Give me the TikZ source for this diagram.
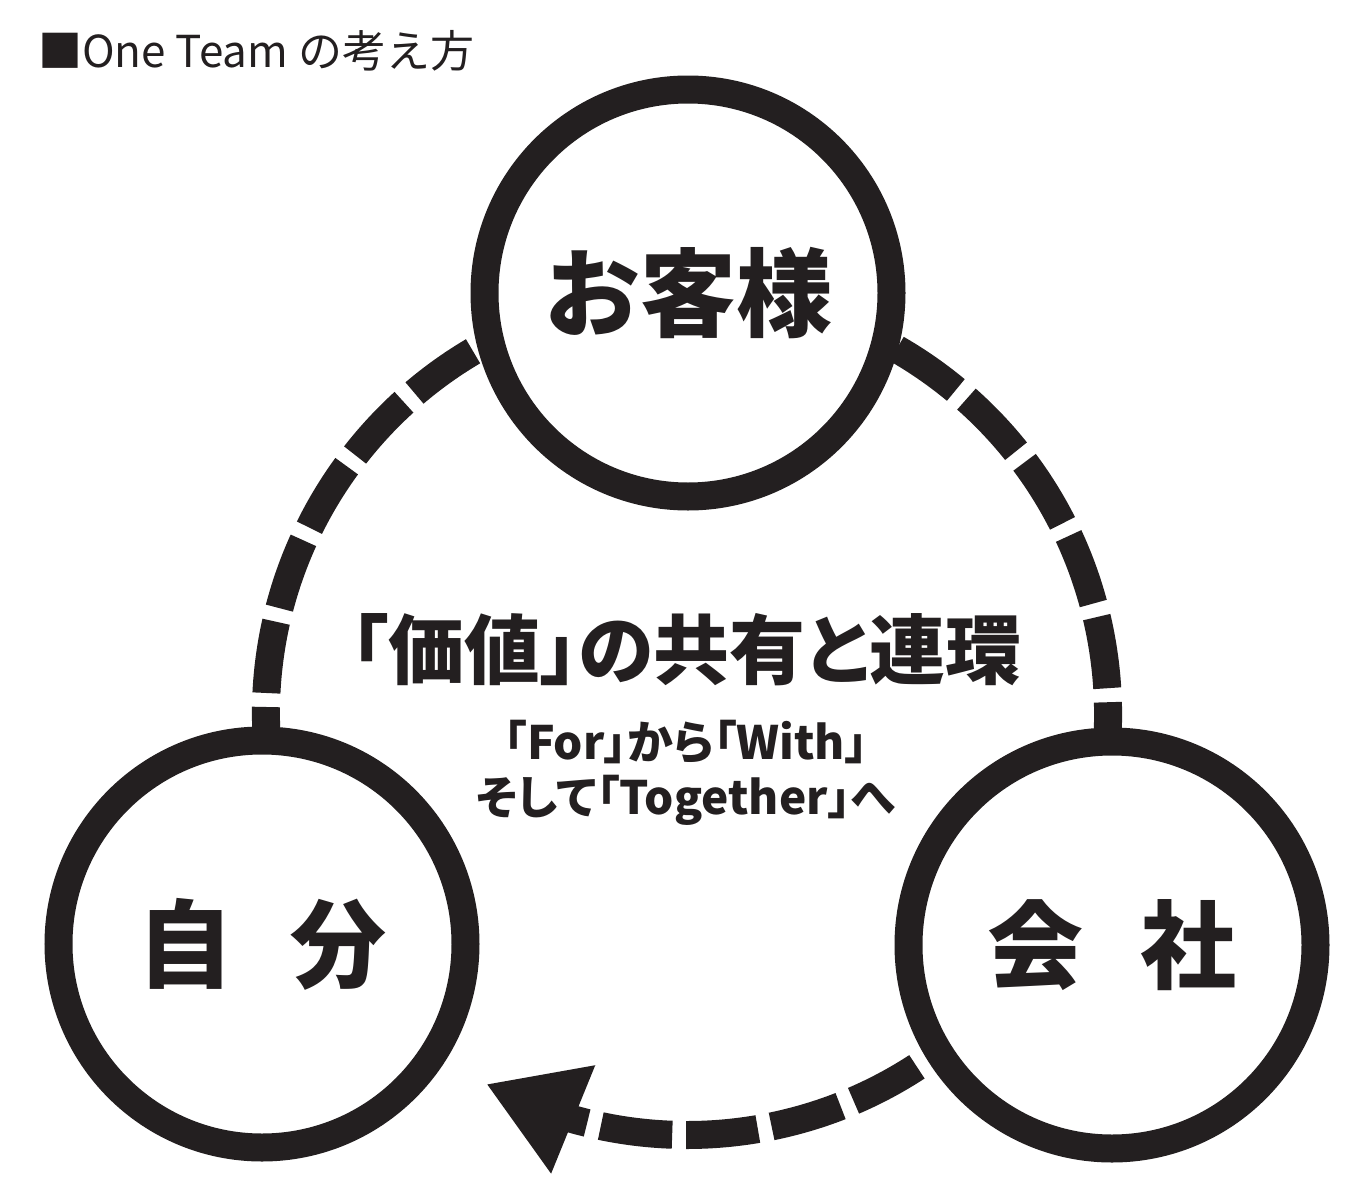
\documentclass[tikz,border=0pt]{standalone}
\usepackage{fontspec}
\usepackage{xcolor}
\usepackage{tikz}
\usetikzlibrary{arrows.meta, bending, positioning}
\newfontfamily\jpfont{Noto Sans CJK JP}
\newfontfamily\jppalt{Noto Sans CJK JP}[RawFeature=+palt]
\definecolor{inkblack}{RGB}{35,31,32}

\begin{document}
\begin{tikzpicture}[
				x=1pt, y=-1pt,
				node distance=34pt,
				party/.style={circle, draw=inkblack, fill=white, line width=28pt, minimum size=407pt,
					inner sep=0pt, text=inkblack, font=\jpfont\bfseries\fontsize{96}{96}\selectfont},
				ring/.style={draw=inkblack, line width=28pt, dash pattern=on 72pt off 14pt, dash phase=77.5pt,
					-{Triangle[length=94pt, width=110pt]}},
				heading/.style={inner sep=0pt, text=inkblack, font=\jpfont\fontsize{44}{44}\selectfont},
				motto/.style={inner sep=0pt, text=inkblack, font=\jppalt\bfseries\fontsize{76}{76}\selectfont},
				tagline/.style={inner sep=0pt, align=center, text=inkblack, font=\jppalt\bfseries\fontsize{46}{55}\selectfont}
				]
				\useasboundingbox (0,0) rectangle (1353,1186);
				
				% Ring
				\coordinate (hub) at (687,714);
				\coordinate (ringstart) at ([shift={(-190:421)}]hub);
				\draw[ring] (ringstart) arc[start angle=-190, end angle=118.5, radius=421];
				
				% Nodes
				\node[heading, anchor=base west] (title) at (38,67) {■One Team の考え方};
				\node[party] (kyaku) at (688,293) {お客様};
				\node[party] (jibun) at (262,944) {自\hspace{0.6em}分};
				\node[party] (kaisha) at (1112,945) {会\hspace{0.6em}社};
				\node[motto] (motto) at (686,650) {「価値」の共有と連環};
				\node[tagline, below=of motto] (tagline) {「For」から「With」\\そして「Together」へ};
				
			\end{tikzpicture}
\end{document}
